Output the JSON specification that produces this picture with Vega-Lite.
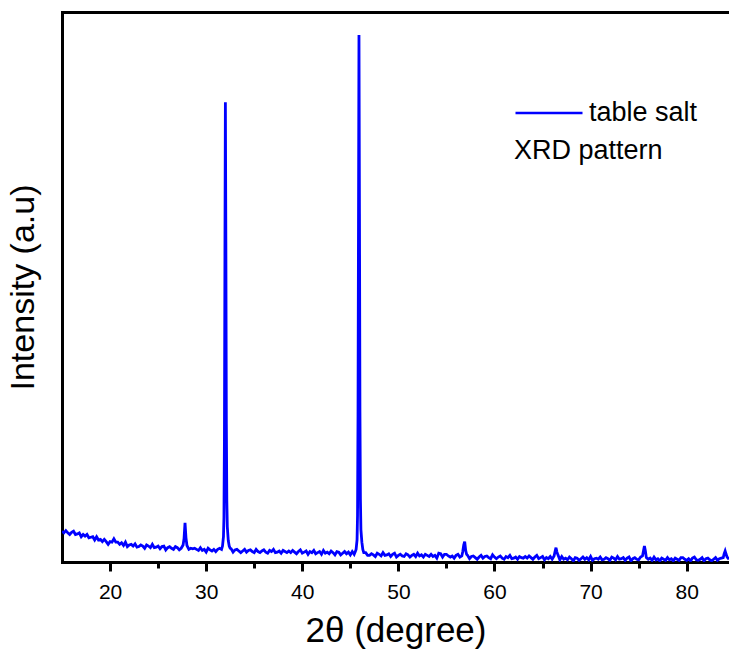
{
  "$schema": "https://vega.github.io/schema/vega-lite/v6.json",
  "width": 667,
  "height": 550,
  "autosize": {"type": "none"},
  "padding": {"left": 62, "top": 12, "right": 0, "bottom": 93},
  "background": "white",
  "config": {
    "font": "Liberation Sans",
    "view": {"stroke": null},
    "axis": {"grid": false}
  },
  "data": {"values": [
{"t":15,"i":56},{"t":15.2,"i":53},{"t":15.4,"i":57},{"t":15.6,"i":53},{"t":15.8,"i":50},{"t":16,"i":54},{"t":16.2,"i":56},{"t":16.4,"i":50},{"t":16.6,"i":51},{"t":16.8,"i":53},
{"t":17,"i":46},{"t":17.2,"i":50},{"t":17.4,"i":47},{"t":17.6,"i":50},{"t":17.8,"i":44},{"t":18,"i":45},{"t":18.2,"i":46},{"t":18.4,"i":40},{"t":18.6,"i":46},{"t":18.8,"i":40},
{"t":19,"i":41},{"t":19.2,"i":37},{"t":19.4,"i":41},{"t":19.6,"i":37},{"t":19.8,"i":32},{"t":20,"i":37},{"t":20.2,"i":36},{"t":20.4,"i":42},{"t":20.6,"i":36},{"t":20.8,"i":36},
{"t":21,"i":32},{"t":21.2,"i":35},{"t":21.4,"i":30},{"t":21.6,"i":36},{"t":21.8,"i":28},{"t":22,"i":31},{"t":22.2,"i":32},{"t":22.4,"i":29},{"t":22.6,"i":33},{"t":22.8,"i":27},
{"t":23,"i":28},{"t":23.2,"i":31},{"t":23.4,"i":29},{"t":23.6,"i":25},{"t":23.8,"i":31},{"t":24,"i":29},{"t":24.2,"i":26},{"t":24.4,"i":32},{"t":24.6,"i":26},{"t":24.8,"i":27},
{"t":25,"i":29},{"t":25.2,"i":24},{"t":25.4,"i":28},{"t":25.6,"i":29},{"t":25.8,"i":22},{"t":26,"i":26},{"t":26.2,"i":28},{"t":26.4,"i":25},{"t":26.6,"i":23},{"t":26.8,"i":28},
{"t":27,"i":26},{"t":27.2,"i":22},{"t":27.4,"i":25},{"t":27.6,"i":31},{"t":27.7,"i":43},{"t":27.8,"i":71},{"t":27.9,"i":44},{"t":28,"i":30},{"t":28.2,"i":23},{"t":28.4,"i":25},
{"t":28.6,"i":24},{"t":28.8,"i":25},{"t":29,"i":23},{"t":29.2,"i":21},{"t":29.4,"i":26},{"t":29.6,"i":21},{"t":29.8,"i":23},{"t":30,"i":18},{"t":30.2,"i":25},{"t":30.4,"i":22},
{"t":30.6,"i":20},{"t":30.8,"i":23},{"t":31,"i":19},{"t":31.2,"i":23},{"t":31.4,"i":25},{"t":31.6,"i":23},{"t":31.7,"i":29},{"t":31.8,"i":46},{"t":31.85,"i":81},{"t":31.9,"i":221},
{"t":31.95,"i":541},{"t":32,"i":836},{"t":32.05,"i":581},{"t":32.1,"i":251},{"t":32.15,"i":111},{"t":32.2,"i":64},{"t":32.3,"i":39},{"t":32.4,"i":29},{"t":32.5,"i":25},{"t":32.6,"i":24},
{"t":32.8,"i":18},{"t":33,"i":22},{"t":33.2,"i":23},{"t":33.4,"i":20},{"t":33.6,"i":17},{"t":33.8,"i":20},{"t":34,"i":23},{"t":34.2,"i":18},{"t":34.4,"i":21},{"t":34.6,"i":22},
{"t":34.8,"i":19},{"t":35,"i":17},{"t":35.2,"i":23},{"t":35.4,"i":19},{"t":35.6,"i":17},{"t":35.8,"i":20},{"t":36,"i":22},{"t":36.2,"i":18},{"t":36.4,"i":16},{"t":36.6,"i":21},
{"t":36.8,"i":19},{"t":37,"i":23},{"t":37.2,"i":17},{"t":37.4,"i":18},{"t":37.6,"i":20},{"t":37.8,"i":16},{"t":38,"i":21},{"t":38.2,"i":19},{"t":38.4,"i":17},{"t":38.6,"i":20},
{"t":38.8,"i":17},{"t":39,"i":21},{"t":39.2,"i":18},{"t":39.4,"i":15},{"t":39.6,"i":19},{"t":39.8,"i":22},{"t":40,"i":16},{"t":40.2,"i":18},{"t":40.4,"i":20},{"t":40.6,"i":14},
{"t":40.8,"i":19},{"t":41,"i":17},{"t":41.2,"i":21},{"t":41.4,"i":15},{"t":41.6,"i":17},{"t":41.8,"i":19},{"t":42,"i":14},{"t":42.2,"i":21},{"t":42.4,"i":16},{"t":42.6,"i":18},
{"t":42.8,"i":15},{"t":43,"i":20},{"t":43.2,"i":17},{"t":43.4,"i":13},{"t":43.6,"i":19},{"t":43.8,"i":18},{"t":44,"i":13},{"t":44.2,"i":16},{"t":44.4,"i":19},{"t":44.6,"i":15},
{"t":44.8,"i":18},{"t":45,"i":13},{"t":45.2,"i":19},{"t":45.4,"i":14},{"t":45.5,"i":18},{"t":45.6,"i":23},{"t":45.7,"i":40},{"t":45.75,"i":85},{"t":45.8,"i":265},{"t":45.85,"i":615},
{"t":45.9,"i":958},{"t":45.95,"i":634},{"t":46,"i":274},{"t":46.05,"i":114},{"t":46.1,"i":59},{"t":46.2,"i":36},{"t":46.3,"i":23},{"t":46.4,"i":17},{"t":46.6,"i":17},{"t":46.8,"i":12},
{"t":47,"i":12},{"t":47.2,"i":15},{"t":47.4,"i":13},{"t":47.6,"i":10},{"t":47.8,"i":16},{"t":48,"i":14},{"t":48.2,"i":11},{"t":48.4,"i":17},{"t":48.6,"i":12},{"t":48.8,"i":13},
{"t":49,"i":15},{"t":49.2,"i":10},{"t":49.4,"i":14},{"t":49.6,"i":16},{"t":49.8,"i":9},{"t":50,"i":12},{"t":50.2,"i":14},{"t":50.4,"i":11},{"t":50.6,"i":10},{"t":50.8,"i":15},
{"t":51,"i":13},{"t":51.2,"i":9},{"t":51.4,"i":12},{"t":51.6,"i":14},{"t":51.8,"i":10},{"t":52,"i":16},{"t":52.2,"i":11},{"t":52.4,"i":13},{"t":52.6,"i":9},{"t":52.8,"i":14},
{"t":53,"i":12},{"t":53.2,"i":10},{"t":53.4,"i":14},{"t":53.6,"i":10},{"t":53.8,"i":12},{"t":54,"i":7},{"t":54.2,"i":16},{"t":54.4,"i":15},{"t":54.6,"i":9},{"t":54.8,"i":14},
{"t":55,"i":14},{"t":55.2,"i":11},{"t":55.4,"i":9},{"t":55.6,"i":11},{"t":55.8,"i":7},{"t":56,"i":12},{"t":56.2,"i":14},{"t":56.4,"i":9},{"t":56.6,"i":11},{"t":56.7,"i":19},
{"t":56.8,"i":31},{"t":56.9,"i":37},{"t":57,"i":21},{"t":57.1,"i":14},{"t":57.2,"i":12},{"t":57.4,"i":6},{"t":57.6,"i":10},{"t":57.8,"i":11},{"t":58,"i":8},{"t":58.2,"i":5},
{"t":58.4,"i":9},{"t":58.6,"i":12},{"t":58.8,"i":7},{"t":59,"i":10},{"t":59.2,"i":11},{"t":59.4,"i":8},{"t":59.6,"i":6},{"t":59.8,"i":13},{"t":60,"i":9},{"t":60.2,"i":6},
{"t":60.4,"i":9},{"t":60.6,"i":11},{"t":60.8,"i":7},{"t":61,"i":5},{"t":61.2,"i":10},{"t":61.4,"i":8},{"t":61.6,"i":12},{"t":61.8,"i":6},{"t":62,"i":7},{"t":62.2,"i":9},
{"t":62.4,"i":5},{"t":62.6,"i":10},{"t":62.8,"i":8},{"t":63,"i":7},{"t":63.2,"i":10},{"t":63.4,"i":7},{"t":63.6,"i":11},{"t":63.8,"i":8},{"t":64,"i":5},{"t":64.2,"i":9},
{"t":64.4,"i":12},{"t":64.6,"i":6},{"t":64.8,"i":8},{"t":65,"i":10},{"t":65.2,"i":4},{"t":65.4,"i":8},{"t":65.6,"i":6},{"t":65.8,"i":10},{"t":66,"i":5},{"t":66.2,"i":11},
{"t":66.3,"i":19},{"t":66.4,"i":26},{"t":66.5,"i":18},{"t":66.6,"i":13},{"t":66.8,"i":4},{"t":67,"i":10},{"t":67.2,"i":5},{"t":67.4,"i":7},{"t":67.6,"i":4},{"t":67.8,"i":9},
{"t":68,"i":6},{"t":68.2,"i":2},{"t":68.4,"i":8},{"t":68.6,"i":7},{"t":68.8,"i":3},{"t":69,"i":6},{"t":69.2,"i":9},{"t":69.4,"i":5},{"t":69.6,"i":8},{"t":69.8,"i":4},
{"t":70,"i":10},{"t":70.2,"i":3},{"t":70.4,"i":6},{"t":70.6,"i":7},{"t":70.8,"i":5},{"t":71,"i":9},{"t":71.2,"i":4},{"t":71.4,"i":5},{"t":71.6,"i":8},{"t":71.8,"i":6},
{"t":72,"i":3},{"t":72.2,"i":9},{"t":72.4,"i":7},{"t":72.6,"i":4},{"t":72.8,"i":10},{"t":73,"i":5},{"t":73.2,"i":6},{"t":73.4,"i":8},{"t":73.6,"i":3},{"t":73.8,"i":7},
{"t":74,"i":9},{"t":74.2,"i":2},{"t":74.4,"i":6},{"t":74.6,"i":8},{"t":74.8,"i":5},{"t":75,"i":4},{"t":75.2,"i":9},{"t":75.4,"i":11},{"t":75.5,"i":20},{"t":75.6,"i":29},
{"t":75.7,"i":20},{"t":75.8,"i":8},{"t":76,"i":5},{"t":76.2,"i":7},{"t":76.4,"i":3},{"t":76.6,"i":9},{"t":76.8,"i":4},{"t":77,"i":6},{"t":77.2,"i":2},{"t":77.4,"i":7},
{"t":77.6,"i":5},{"t":77.8,"i":3},{"t":78,"i":8},{"t":78.2,"i":4},{"t":78.4,"i":6},{"t":78.6,"i":2},{"t":78.8,"i":7},{"t":79,"i":5},{"t":79.2,"i":3},{"t":79.4,"i":8},
{"t":79.6,"i":8},{"t":79.8,"i":5},{"t":80,"i":3},{"t":80.2,"i":6},{"t":80.4,"i":2},{"t":80.6,"i":7},{"t":80.8,"i":9},{"t":81,"i":4},{"t":81.2,"i":3},{"t":81.4,"i":5},
{"t":81.6,"i":8},{"t":81.8,"i":2},{"t":82,"i":6},{"t":82.2,"i":7},{"t":82.4,"i":4},{"t":82.6,"i":2},{"t":82.8,"i":5},{"t":83,"i":8},{"t":83.2,"i":3},{"t":83.4,"i":6},
{"t":83.6,"i":7},{"t":83.8,"i":8},{"t":83.9,"i":15},{"t":84,"i":20},{"t":84.1,"i":14},{"t":84.2,"i":9},{"t":84.4,"i":5}
  ]},
  "resolve": {"axis": {"x": "independent"}},
  "layer": [
    {
      "mark": {"type": "line", "strokeWidth": 2.8, "clip": true},
      "encoding": {
        "x": {
          "field": "t", "type": "quantitative",
          "scale": {"domain": [15, 84.4], "nice": false, "zero": false},
          "axis": {
            "orient": "bottom",
            "values": [20, 30, 40, 50, 60, 70, 80],
            "tickSize": 9, "tickWidth": 3, "tickColor": "black",
            "domainWidth": 3, "domainColor": "black", "domainCap": "square",
            "labelFontSize": 21, "labelColor": "black", "labelPadding": 10,
            "labelFlush": false,
            "title": "2θ (degree)", "titleFontSize": 35, "titleFontWeight": "normal",
            "titleColor": "black", "titlePadding": 11, "grid": false
          }
        },
        "y": {
          "field": "i", "type": "quantitative",
          "scale": {"domain": [0, 1000], "nice": false, "zero": false},
          "axis": {
            "orient": "left",
            "ticks": false, "labels": false,
            "domainWidth": 3, "domainColor": "black", "domainCap": "square",
            "title": "Intensity (a.u)", "titleFontSize": 34, "titleFontWeight": "normal",
            "titleColor": "black", "titlePadding": 22, "grid": false
          }
        },
        "color": {
          "datum": "table salt",
          "type": "nominal",
          "scale": {"range": ["#0000ff"]},
          "legend": {
            "orient": "none", "legendX": 452, "legendY": 66,
            "symbolType": "stroke", "symbolSize": 4489, "symbolStrokeWidth": 2.5,
            "labelFontSize": 27, "labelColor": "black", "labelOffset": 5,
            "title": "XRD pattern", "titleOrient": "bottom", "titleAnchor": "start",
            "titleFontSize": 27, "titleFontWeight": "normal", "titleColor": "black",
            "titlePadding": 12, "padding": 0
          }
        }
      }
    },
    {
      "mark": {"type": "line", "opacity": 0},
      "encoding": {
        "x": {
          "field": "t", "type": "quantitative",
          "axis": {
            "orient": "bottom",
            "values": [25, 35, 45, 55, 65, 75],
            "tickSize": 6, "tickWidth": 3, "tickColor": "black",
            "labels": false, "domain": false, "title": null, "grid": false
          }
        }
      }
    },
    {
      "mark": {"type": "line", "opacity": 0},
      "encoding": {
        "x": {
          "field": "t", "type": "quantitative",
          "axis": {
            "orient": "top", "ticks": false, "labels": false,
            "domainWidth": 3, "domainColor": "black", "domainCap": "square",
            "title": null, "grid": false
          }
        }
      }
    }
  ]
}
